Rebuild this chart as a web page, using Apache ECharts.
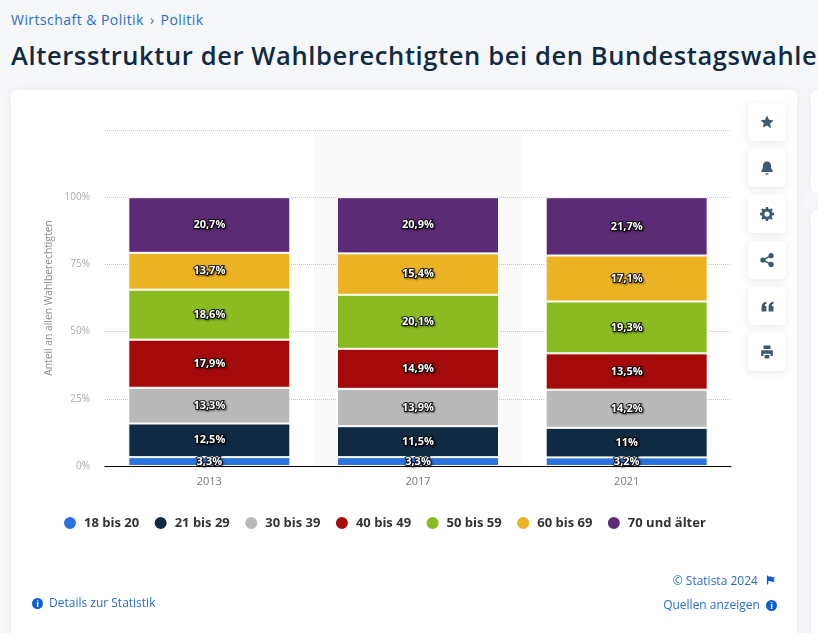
<!DOCTYPE html>
<html><head><meta charset="utf-8">
<style>
html,body{margin:0;padding:0;width:818px;height:633px;overflow:hidden;background:#f6f7f9;font-family:"Open Sans",sans-serif}
.abs{position:absolute;white-space:nowrap}
#crumb{left:11px;top:10px;font-size:14px;letter-spacing:.45px;color:#2a6bd0}
#crumb i{font-style:normal;color:#6a7480;margin:0 6px}
#title{left:11px;top:37px;width:807px;overflow:hidden;font-size:25.5px;font-weight:600;color:#0f2a43;letter-spacing:.62px;line-height:36px}
.card{position:absolute;background:#fff;border-radius:6px;box-shadow:0 0 14px rgba(30,50,80,.05)}
#chart{position:absolute;left:0;top:0;width:818px;height:633px}
.btn{position:absolute;left:748px;width:38px;height:38px;background:#fff;border-radius:5px;box-shadow:0 2px 8px rgba(30,50,80,.10);display:flex;align-items:center;justify-content:center}
.link{font-size:12px;color:#2a6bd0}
.ic{display:inline-block;width:11px;height:11px;border-radius:50%;background:#0b5ed0;color:#fff;font:bold 9px/11px "Open Sans";text-align:center}
</style></head><body>
<div class="abs" id="crumb">Wirtschaft &amp; Politik<i>›</i>Politik</div>
<div class="abs" id="title">Altersstruktur der Wahlberechtigten bei den Bundestagswahlen</div>
<div class="card" style="left:11px;top:90px;width:786px;height:560px"></div>
<div class="card" style="left:811px;top:90px;width:40px;height:103px"></div>
<div class="card" style="left:811px;top:210px;width:40px;height:440px"></div>
<div id="chart"></div>
<div class="btn" style="top:103px"><svg width="14" height="14" viewBox="0 0 24 24" fill="#3f5873"><path d="M12 1l3.4 7.3 7.9 1-5.8 5.4 1.5 7.9L12 18l-7 3.6 1.5-7.9L.7 9.3l7.9-1z"/></svg></div>
<div class="btn" style="top:149px"><svg width="14" height="14" viewBox="0 0 24 24" fill="#3f5873"><path d="M12 1c-5 0-7 4-7 8 0 4-1 6-3 8v2h20v-2c-2-2-3-4-3-8 0-4-2-8-7-8zM9 21h6c0 1.500-1.300 2.500-3 2.500S9 22.500 9 21z"/></svg></div>
<div class="btn" style="top:195px"><svg width="14" height="14" viewBox="0 0 24 24"><circle cx="12" cy="12" r="7" fill="none" stroke="#3f5873" stroke-width="5"/><g stroke="#3f5873" stroke-width="4"><path d="M12 0v5M12 19v5M0 12h5M19 12h5M3.500 3.500l3.500 3.500M17 17l3.500 3.500M3.500 20.500L7 17M17 7l3.500-3.500"/></g></svg></div>
<div class="btn" style="top:241px"><svg width="14" height="14" viewBox="0 0 24 24" fill="#3f5873"><circle cx="5" cy="12" r="4.500"/><circle cx="19" cy="4.500" r="4.500"/><circle cx="19" cy="19.500" r="4.500"/><path d="M5 12L19 4.500M5 12l14 7.500" stroke="#3f5873" stroke-width="2.500"/></svg></div>
<div class="btn" style="top:287px"><svg width="13" height="13" viewBox="0 0 24 24" fill="#3f5873"><path d="M1 13c0-6 3-9 9-10v4c-2 .5-3 2-3 4h3v10H1zM14 13c0-6 3-9 9-10v4c-2 .5-3 2-3 4h3v10h-9z"/></svg></div>
<div class="btn" style="top:333px"><svg width="14" height="14" viewBox="0 0 24 24" fill="#3f5873"><path d="M6 1h12v6H6zM2 9h20v10h-4v-4H6v4H2zM8 17h8v6H8z"/></svg></div>
<div class="abs link" style="left:32px;top:594px"><span class="ic">i</span><span style="margin-left:6px">Details zur Statistik</span></div>
<div class="abs link" style="right:43px;top:572px">© Statista 2024 <svg width="9" height="10" viewBox="0 0 10 10" style="margin-left:5px"><path d="M1 0h1.500v10H1zM2.500 1H6l.5 1H10L8.500 4.500 10 7H5.500L5 6H2.500z" fill="#0b5ed0"/></svg></div>
<div class="abs link" style="right:41px;top:596px">Quellen anzeigen <span class="ic" style="margin-left:3px">i</span></div>
<script src="https://cdn.jsdelivr.net/npm/echarts@6/dist/echarts.min.js"></script>
<script>
const years = ['2013','2017','2021'];
const age18 = [3.3,3.3,3.2];
const age21 = [12.5,11.5,11];
const age30 = [13.3,13.9,14.2];
const age40 = [17.9,14.9,13.5];
const age50 = [18.6,20.1,19.3];
const age60 = [13.7,15.4,17.1];
const age70 = [20.7,20.9,21.7];
const names = ['18 bis 20','21 bis 29','30 bis 39','40 bis 49','50 bis 59','60 bis 69','70 und älter'];
const colors = ['#2a72de','#0f2a43','#b9b9b9','#a50a0a','#8abb21','#ebb323','#5b2c75'];
const rows = [age18,age21,age30,age40,age50,age60,age70];
const font = '"Open Sans",sans-serif';
const chart = echarts.init(document.getElementById('chart'),null,{renderer:'canvas'});
chart.setOption({
  animation:false,
  backgroundColor:'transparent',
  color:colors,
  grid:{left:105,right:87,top:130,bottom:167,outerBoundsMode:'none'},
  legend:{left:57,top:510,icon:'circle',itemWidth:14,itemHeight:14,itemGap:13.5,
    textStyle:{fontFamily:font,fontSize:13,fontWeight:700,color:'#333',padding:[0,0,0,2]},data:names},
  xAxis:{type:'category',data:years,
    axisLine:{lineStyle:{color:'#000',width:1}},axisTick:{show:false},
    axisLabel:{fontFamily:font,fontSize:11,color:'#777',margin:10}},
  yAxis:{type:'value',min:0,max:125,interval:25,
    name:'Anteil an allen Wahlberechtigten',nameLocation:'middle',nameGap:49,nameRotate:90,
    nameTextStyle:{fontFamily:font,fontSize:10.300,color:'#8c8c8c',padding:[0,0,0,0]},
    axisLine:{show:false},axisTick:{show:false},
    axisLabel:{fontFamily:font,fontSize:10,color:'#aaa',margin:15,
      formatter:v=>v>100?'':v+'%'},
    splitLine:{lineStyle:{type:'dotted',color:'#c4c4c4',width:1}}},
  series:names.map((n,i)=>({
    name:n,type:'bar',stack:'a',barWidth:162,data:rows[i],
    itemStyle:{color:colors[i],borderColor:'#fff',borderWidth:1},
    label:{show:true,position:'inside',fontFamily:font,fontSize:11,fontWeight:700,color:'#fff',
      textBorderColor:'rgba(0,0,0,.8)',textBorderWidth:2,
      textShadowColor:'rgba(0,0,0,.5)',textShadowBlur:2,textShadowOffsetX:1,textShadowOffsetY:1,
      formatter:p=>String(p.value).replace('.',',')+'%'}
  }))
});
const bandW = 626/3, cx = chart.convertToPixel({xAxisIndex:0},'2017');
const top125 = chart.convertToPixel({yAxisIndex:0},125), y0 = chart.convertToPixel({yAxisIndex:0},0);
chart.setOption({graphic:[{type:'rect',z:-1,silent:true,shape:{x:cx-bandW/2,y:top125,width:bandW,height:y0-top125},style:{fill:'#fafafa'}}]});
</script>
</body></html>
